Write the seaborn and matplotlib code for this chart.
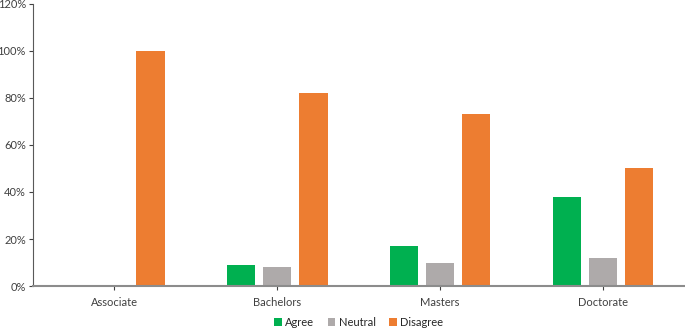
import pandas as pd
import matplotlib.pyplot as plt
import seaborn as sns
from matplotlib.ticker import PercentFormatter

degrees = ['Associate', 'Bachelors', 'Masters', 'Doctorate']
responses = ['Agree', 'Neutral', 'Disagree']
agree = [0, 9, 17, 38]
neutral = [0, 8, 10, 12]
disagree = [100, 82, 73, 50]

df = pd.DataFrame({
    'degree': degrees * 3,
    'response': [r for r in responses for _ in degrees],
    'pct': agree + neutral + disagree,
})

sns.set_style('white')
plt.rcParams['font.family'] = ['Lato', 'DejaVu Sans']

fig = plt.figure(figsize=(6.85, 3.28), dpi=100)
ax = fig.add_axes([0.048, 0.128, 0.951, 0.86])

palette = {'Agree': '#00B050', 'Neutral': '#AEAAAA', 'Disagree': '#ED7D31'}
sns.barplot(data=df, x='degree', y='pct', hue='response', hue_order=responses,
            order=degrees, palette=palette, width=0.665, gap=0.21,
            linewidth=0, saturation=1, ax=ax)

ax.set_ylim(0, 120)
ax.set_xlim(-0.5, 3.5)
ax.set_yticks(range(0, 121, 20))
ax.yaxis.set_major_formatter(PercentFormatter(decimals=0))
ax.set_xlabel('')
ax.set_ylabel('')
for s in ['top', 'right']:
    ax.spines[s].set_visible(False)
ax.spines['left'].set_color('#595959')
ax.spines['left'].set_linewidth(0.8)
ax.spines['bottom'].set_color('#8c8c8c')
ax.spines['bottom'].set_linewidth(1.5)
ax.tick_params(axis='both', labelsize=8, colors='#404040', length=3,
               width=0.8, direction='out', left=True, bottom=True)
ax.tick_params(axis='x', pad=5)
ax.tick_params(axis='y', pad=2)

ax.legend(loc='center', bbox_to_anchor=(0.5, -0.128), ncol=3,
          frameon=False, fontsize=8, handlelength=0.7, handleheight=0.7,
          handletextpad=0.3, columnspacing=1.2, borderpad=0)

plt.savefig('out.png', dpi=100)
plt.close()
